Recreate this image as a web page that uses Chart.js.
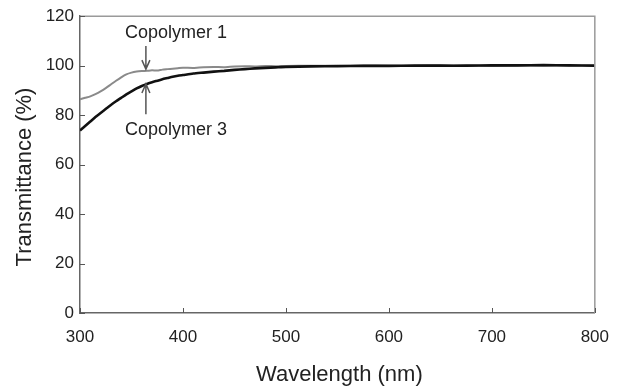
<!DOCTYPE html>
<html>
<head>
<meta charset="utf-8">
<script src="https://cdn.jsdelivr.net/npm/chart.js@4/dist/chart.umd.min.js"></script>
<style>
  html, body { margin: 0; padding: 0; background: #fff; }
  #wrap { width: 623px; height: 389px; }
</style>
</head>
<body>
<div id="wrap"><canvas id="chart" width="623" height="389"></canvas></div>
<script>
// длины волн, нм
const wavelengths = [
  300, 305, 310, 315, 320, 325, 330, 335, 340, 345, 350, 355, 360, 365, 370, 375, 380, 385, 390, 395, 400,
  410, 420, 430, 440, 450, 460, 470, 480, 490, 500,
  525, 550, 575, 600, 625, 650, 675, 700, 725, 750, 775, 800
];
// Copolymer 1 (серая кривая)
const copolymer1 = [
  86.4, 87.0, 87.6, 88.5, 89.6, 90.9, 92.4, 93.9, 95.3, 96.5, 97.2, 97.6, 97.8, 97.9, 98.1, 98.0, 98.4, 98.6, 98.8, 99.0, 99.2,
  99.1, 99.4, 99.5, 99.4, 99.7, 99.8, 99.7, 99.9, 99.8, 99.9,
  100.0, 99.9, 100.1, 100.0, 100.0, 100.1, 100.0, 99.9, 100.1, 100.0, 100.1, 100.0
];
// Copolymer 3 (чёрная кривая)
const copolymer3 = [
  73.8, 75.6, 77.4, 79.2, 80.9, 82.5, 84.1, 85.6, 87.0, 88.4, 89.6, 90.8, 91.8, 92.6, 93.3, 93.9, 94.5, 95.0, 95.5, 95.9, 96.2,
  96.8, 97.2, 97.6, 97.9, 98.3, 98.6, 98.9, 99.1, 99.3, 99.5,
  99.7, 99.8, 99.9, 99.9, 100.0, 100.0, 100.0, 100.1, 100.1, 100.2, 100.1, 100.0
];
const xTicks = [300, 400, 500, 600, 700, 800];
const yTicks = [0, 20, 40, 60, 80, 100, 120];

// подписи со стрелками: [текст, x, y текста, хвост стрелки, кончик стрелки]
const labels = [
  ['Copolymer 1', 364, 113.2, 108.0, 98.6],
  ['Copolymer 3', 364, 74.0, 80.4, 92.6]
];

const FONT = 'Liberation Sans, Arial, sans-serif';

// рамка, внутренние риски, заголовки осей и подписи
const decorPlugin = {
  id: 'decor',
  afterDraw(chart) {
    const { ctx, chartArea: a, scales: { x, y } } = chart;
    ctx.save();
    // верх и правая сторона рамки
    ctx.strokeStyle = '#9a9a9a';
    ctx.lineWidth = 1.5;
    ctx.beginPath();
    ctx.moveTo(a.left, a.top);
    ctx.lineTo(a.right, a.top);
    ctx.lineTo(a.right, a.bottom);
    ctx.stroke();

    // риски внутрь
    ctx.strokeStyle = '#555';
    ctx.lineWidth = 1;
    ctx.beginPath();
    xTicks.forEach((v) => {
      const px = Math.round(x.getPixelForValue(v)) + 0.5;
      ctx.moveTo(px, a.bottom);
      ctx.lineTo(px, a.bottom - 5);
    });
    yTicks.forEach((v) => {
      const py = Math.round(y.getPixelForValue(v)) + 0.5;
      ctx.moveTo(a.left, py);
      ctx.lineTo(a.left + 5, py);
    });
    ctx.stroke();

    // заголовки осей
    ctx.fillStyle = '#222';
    ctx.font = '22px ' + FONT;
    ctx.textAlign = 'center';
    ctx.textBaseline = 'middle';
    ctx.fillText('Wavelength (nm)', (a.left + a.right) / 2 + 2, 375);
    ctx.save();
    ctx.translate(25, 177);
    ctx.rotate(-Math.PI / 2);
    ctx.fillText('Transmittance (%)', 0, 0);
    ctx.restore();

    // подписи кривых со стрелками
    ctx.font = '18px ' + FONT;
    labels.forEach(([text, wl, ty, tail, tip]) => {
      const px = x.getPixelForValue(wl);
      const pTail = y.getPixelForValue(tail);
      const pTip = y.getPixelForValue(tip);
      ctx.fillStyle = '#222';
      ctx.fillText(text, px + 30, y.getPixelForValue(ty));
      ctx.strokeStyle = '#555';
      ctx.lineWidth = 1.5;
      const dir = pTip > pTail ? 1 : -1;
      ctx.beginPath();
      ctx.moveTo(px, pTail);
      ctx.lineTo(px, pTip);
      ctx.moveTo(px - 4, pTip - dir * 9);
      ctx.lineTo(px, pTip);
      ctx.lineTo(px + 4, pTip - dir * 9);
      ctx.stroke();
    });
    ctx.restore();
  }
};

new Chart(document.getElementById('chart').getContext('2d'), {
  type: 'line',
  data: {
    datasets: [
      {
        label: 'Copolymer 1',
        data: wavelengths.map((w, i) => ({ x: w, y: copolymer1[i] })),
        borderColor: '#8a8a8a',
        borderWidth: 2,
        pointRadius: 0,
        tension: 0.2,
        order: 2
      },
      {
        label: 'Copolymer 3',
        data: wavelengths.map((w, i) => ({ x: w, y: copolymer3[i] })),
        borderColor: '#111',
        borderWidth: 2.6,
        pointRadius: 0,
        tension: 0.2,
        order: 1
      }
    ]
  },
  options: {
    responsive: false,
    animation: false,
    layout: { padding: { top: 13, right: 24, left: 0, bottom: 0 } },
    plugins: {
      legend: { display: false },
      tooltip: { enabled: false }
    },
    scales: {
      x: {
        type: 'linear',
        min: 300,
        max: 800,
        afterFit: (s) => { s.height = 76; },
        afterBuildTicks: (s) => { s.ticks = xTicks.map((v) => ({ value: v })); },
        grid: { display: false, drawTicks: false },
        border: { display: true, color: '#666', width: 1.5 },
        ticks: { color: '#222', font: { family: FONT, size: 17 }, padding: 14, maxRotation: 0 }
      },
      y: {
        min: 0,
        max: 120,
        afterFit: (s) => { s.width = 80; },
        afterBuildTicks: (s) => { s.ticks = yTicks.map((v) => ({ value: v })); },
        grid: { display: false, drawTicks: false },
        border: { display: true, color: '#666', width: 1.5 },
        ticks: { color: '#222', font: { family: FONT, size: 17 }, padding: 6 }
      }
    }
  },
  plugins: [decorPlugin]
});
</script>
</body>
</html>
